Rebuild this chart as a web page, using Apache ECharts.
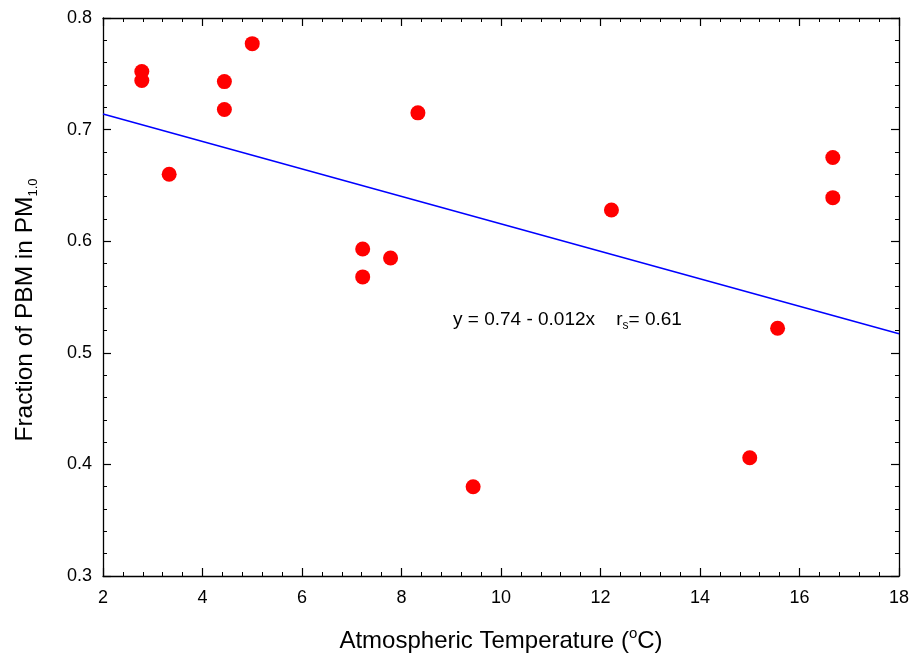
<!DOCTYPE html>
<html><head><meta charset="utf-8">
<script src="https://cdn.jsdelivr.net/npm/echarts@6/dist/echarts.min.js"></script>
<style>html,body{margin:0;padding:0;background:#fff}#c{width:912px;height:660px}</style>
</head><body><div id="c"></div>
<script>
// Data
const tempC = [2.78, 2.78, 3.33, 4.44, 4.44, 5.0, 7.22, 7.22, 7.78, 8.33, 9.44, 12.22, 15.0, 15.56, 16.67, 16.67];
const fractionPBM = [0.752, 0.744, 0.660, 0.743, 0.718, 0.777, 0.593, 0.568, 0.585, 0.715, 0.380, 0.628, 0.406, 0.522, 0.675, 0.639];
const fitX = [2, 18];
const fitY = [0.714, 0.517];
const xRange = [2, 18, 2];      // min, max, interval
const yRange = [0.3, 0.8, 0.1];
const annotationText = ['y = 0.74 - 0.012x    r', 's', '= 0.61'];

const FONT = 'Liberation Sans';
const frameLine = { show: true, onZero: false, lineStyle: { color: '#000', width: 1.3 } };
const tick = { show: true, inside: true, length: 8, lineStyle: { color: '#000', width: 1.2 } };
const minor = { show: true, splitNumber: 5, length: 4, lineStyle: { color: '#000', width: 1 } };

function axisBase(range) {
  return {
    type: 'value', min: range[0], max: range[1], interval: range[2],
    axisLine: frameLine, axisTick: tick, minorTick: minor,
    splitLine: { show: false }, minorSplitLine: { show: false }
  };
}

const chart = echarts.init(document.getElementById('c'), null, { renderer: 'canvas' });
chart.setOption({
  animation: false,
  backgroundColor: '#fff',
  grid: { left: 103, right: 11, top: 18, bottom: 84, containLabel: false },
  xAxis: [
    Object.assign(axisBase(xRange), {
      position: 'bottom',
      axisLabel: { show: true, color: '#000', fontFamily: FONT, fontSize: 18, margin: 13 },
      name: '{a|Atmospheric Temperature (}{sup|o}{a|C)}',
      nameLocation: 'middle', nameGap: 50,
      nameTextStyle: {
        rich: {
          a: { fontFamily: FONT, fontSize: 24, color: '#000', lineHeight: 30 },
          sup: { fontFamily: FONT, fontSize: 15, color: '#000', lineHeight: 15, verticalAlign: 'top' }
        }
      }
    }),
    Object.assign(axisBase(xRange), { position: 'top', axisLabel: { show: false } })
  ],
  yAxis: [
    Object.assign(axisBase(yRange), {
      position: 'left',
      axisLabel: { show: true, color: '#000', fontFamily: FONT, fontSize: 18, margin: 11,
        formatter: v => v.toFixed(1) },
      name: '{a|Fraction of PBM in PM}{s|1.0}',
      nameLocation: 'middle', nameGap: 63,
      nameTextStyle: {
        padding: [0, 26, 0, 0],
        rich: {
          a: { fontFamily: FONT, fontSize: 24.5, color: '#000', lineHeight: 30 },
          s: { fontFamily: FONT, fontSize: 13, color: '#000', lineHeight: 13, verticalAlign: 'bottom' }
        }
      }
    }),
    Object.assign(axisBase(yRange), { position: 'right', axisLabel: { show: false } })
  ],
  graphic: [{
    type: 'text', left: 453, top: 310, silent: true,
    style: {
      text: '{t|' + annotationText[0] + '}{r|' + annotationText[1] + '}{t|' + annotationText[2] + '}',
      rich: {
        t: { fontFamily: FONT, fontSize: 19, fill: '#000', lineHeight: 24 },
        r: { fontFamily: FONT, fontSize: 12, fill: '#000', lineHeight: 12, verticalAlign: 'bottom' }
      }
    }
  }],
  series: [
    {
      type: 'line', xAxisIndex: 0, yAxisIndex: 0,
      data: fitX.map((x, i) => [x, fitY[i]]),
      symbol: 'none', lineStyle: { color: '#0000ff', width: 1.5 }, z: 2
    },
    {
      type: 'scatter', xAxisIndex: 0, yAxisIndex: 0,
      data: tempC.map((x, i) => [x, fractionPBM[i]]),
      symbol: 'circle', symbolSize: 15,
      itemStyle: { color: '#ff0000', opacity: 1 }, z: 3
    }
  ]
});
</script>
</body></html>
